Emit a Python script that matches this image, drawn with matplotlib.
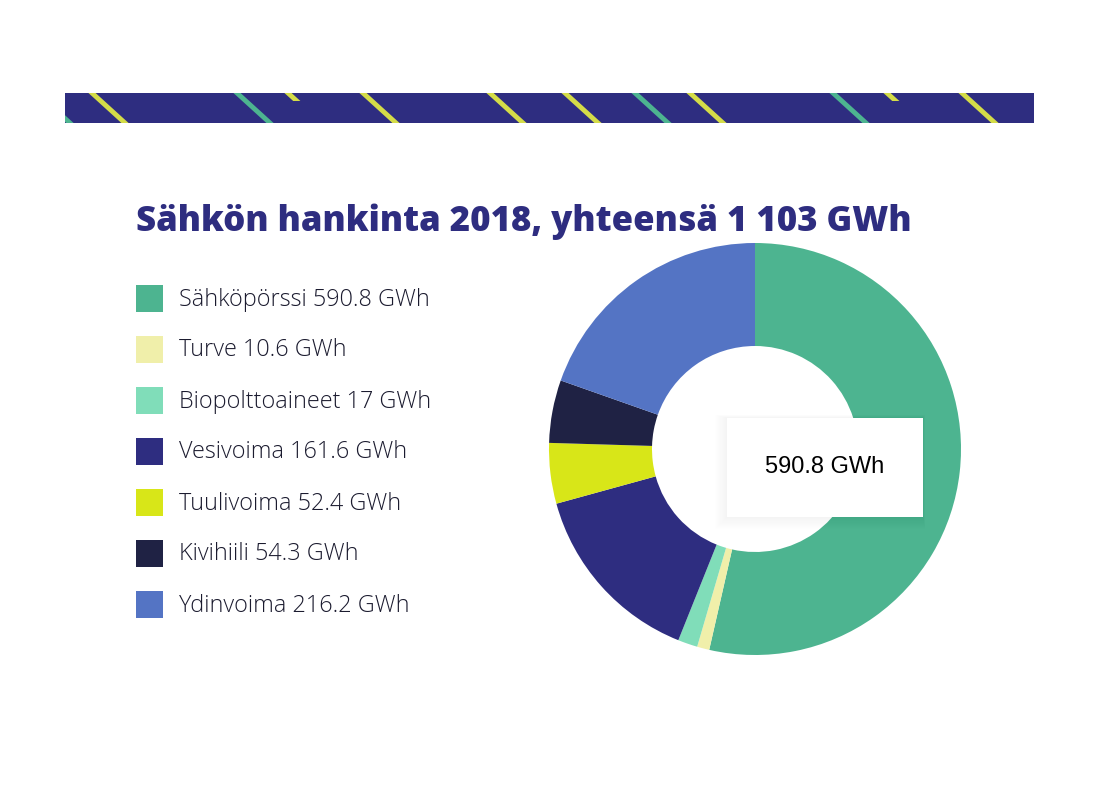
import matplotlib
matplotlib.use("Agg")
import matplotlib.pyplot as plt
from matplotlib.patches import Rectangle, Polygon

# ---- data ----
categories = ["Sähköpörssi", "Turve", "Biopolttoaineet", "Vesivoima",
              "Tuulivoima", "Kivihiili", "Ydinvoima"]
values = [590.8, 10.6, 17, 161.6, 52.4, 54.3, 216.2]
value_labels = ["590.8", "10.6", "17", "161.6", "52.4", "54.3", "216.2"]
colors = ["#4db490", "#f0efaa", "#80ddb9", "#2e2d80", "#d8e618", "#1f2244", "#5474c4"]
title = "Sähkön hankinta 2018, yhteensä 1 103 GWh"
tooltip_text = "590.8 GWh"

# decorative banner stripes: (top x, colour, short?)
stripes = [(37, "#4db490", False), (92, "#d4dc48", False), (237, "#4db490", False),
           (288, "#d4dc48", True), (363, "#d4dc48", False), (490, "#d4dc48", False),
           (565, "#d4dc48", False), (635, "#4db490", False), (690, "#d4dc48", False),
           (833, "#4db490", False), (887, "#d4dc48", True), (962, "#d4dc48", False)]

W, H = 1100, 800
fig = plt.figure(figsize=(11, 8), dpi=100)
fig.patch.set_facecolor("white")

# overlay axes in pixel coords (y downward)
ov = fig.add_axes([0, 0, 1, 1])
ov.set_xlim(0, W)
ov.set_ylim(H, 0)
ov.axis("off")

# banner
band_x0, band_x1, band_y0, band_y1 = 65, 1034, 93, 123
band = Rectangle((band_x0, band_y0), band_x1 - band_x0, band_y1 - band_y0,
                 facecolor="#2e2d80", edgecolor="none", zorder=1)
ov.add_patch(band)
hw = 3.6  # half horizontal width of a stripe
for xt, col, short in stripes:
    ylen = 8 if short else (band_y1 - band_y0)
    dx = ylen * 33 / 30
    pts = [(xt - hw, band_y0), (xt + hw, band_y0),
           (xt + hw + dx, band_y0 + ylen), (xt - hw + dx, band_y0 + ylen)]
    p = Polygon(pts, closed=True, facecolor=col, edgecolor="none", zorder=2)
    ov.add_patch(p)
    p.set_clip_path(band)

# title
ov.text(136, 222, title, fontsize=25, fontweight="heavy", family=["Open Sans", "DejaVu Sans"],
        color="#2e2d80", ha="left", va="center")

# legend
for i, (cat, lab, col) in enumerate(zip(categories, value_labels, colors)):
    yc = 298 + i * 51
    ov.add_patch(Rectangle((136, yc - 13.5), 27, 27, facecolor=col, edgecolor="none"))
    ov.text(179, yc + 1.5, f"{cat} {lab} GWh", fontsize=16.8, fontweight="light",
            family=["Open Sans", "DejaVu Sans"], color="#1b1b2f", ha="left", va="center")

# donut
cx, cy, R = 755, 449, 206
pax = fig.add_axes([(cx - R) / W, (H - cy - R) / H, 2 * R / W, 2 * R / H])
pax.pie(values, colors=colors, startangle=90, counterclock=False, radius=1,
        wedgeprops=dict(width=0.5, edgecolor="none", linewidth=0))
pax.set_xlim(-1, 1)
pax.set_ylim(-1, 1)
pax.set_aspect("equal")
pax.axis("off")

# tooltip (on top)
tt = fig.add_axes([0, 0, 1, 1])
tt.set_xlim(0, W)
tt.set_ylim(H, 0)
tt.axis("off")
tx0, ty0, tx1, ty1 = 727, 418, 923, 517
for k in range(1, 12):
    tt.add_patch(Rectangle((tx0 - k * 1.1, ty0 - k * 0.3), (tx1 - tx0) + k * 1.3, (ty1 - ty0) + k * 1.4,
                           facecolor="black", alpha=0.004, edgecolor="none"))
tt.add_patch(Rectangle((tx0, ty0), tx1 - tx0, ty1 - ty0, facecolor="white", edgecolor="none"))
tt.text((tx0 + tx1) / 2, 467, tooltip_text, fontsize=17, family=["Liberation Sans", "DejaVu Sans"],
        color="black", ha="center", va="center")

fig.savefig("out.png", dpi=100)
